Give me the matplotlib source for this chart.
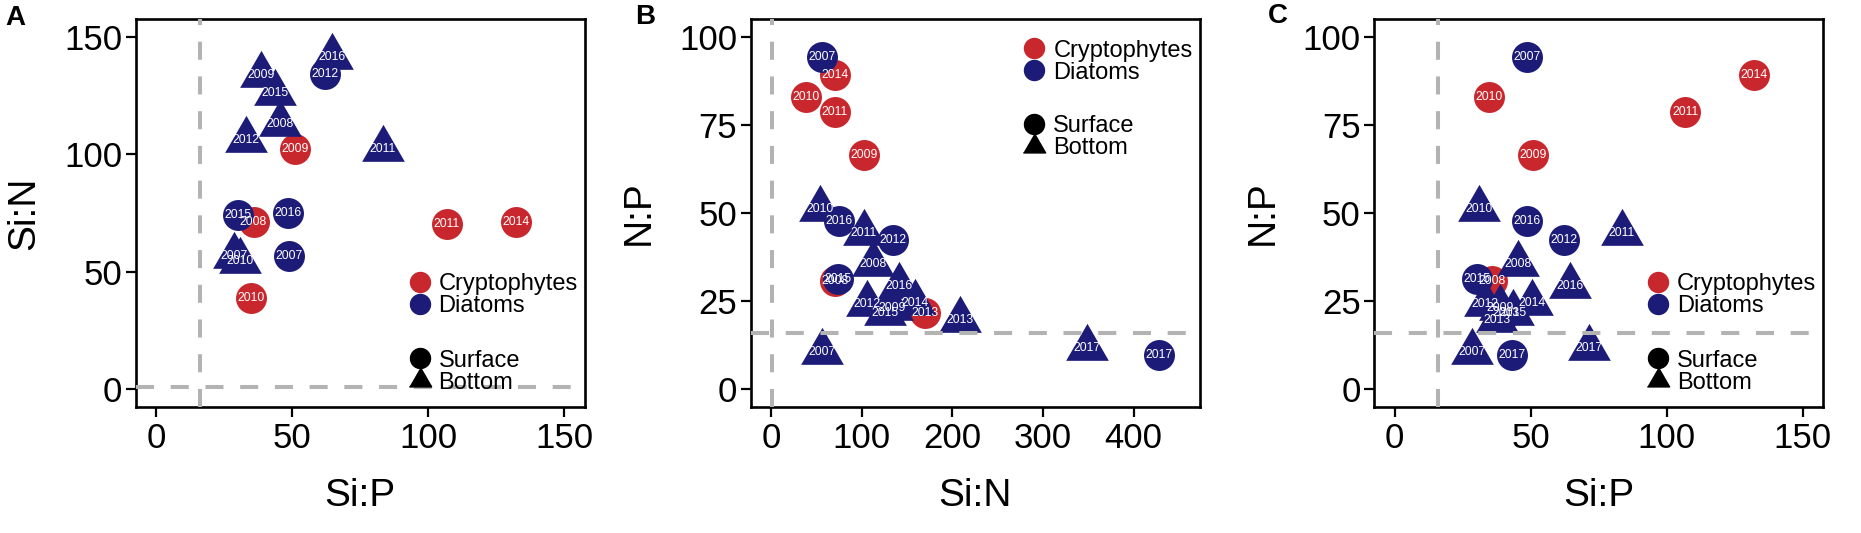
import numpy as np
import matplotlib
matplotlib.use('Agg')
import matplotlib.pyplot as plt
from matplotlib.lines import Line2D

plt.rcParams['font.family'] = ['Liberation Sans', 'DejaVu Sans']
plt.rcParams['lines.scale_dashes'] = False

# --- data: Si:P, Si:N, N:P per year ---
crypto_years = [2008, 2009, 2010, 2011, 2013, 2014]
crypto_sip = [35.8, 51.0, 34.8, 106.8, 41.0, 132.2]
crypto_sin = [71.0, 102.4, 39.0, 70.2, 169.8, 71.2]
crypto_np = [30.6, 66.6, 83.0, 78.8, 21.7, 89.2]

surf_years = [2007, 2012, 2015, 2016, 2017]
surf_sip = [48.8, 62.2, 30.1, 48.5, 43.3]
surf_sin = [56.8, 134.4, 74.3, 74.9, 428.0]
surf_np = [94.2, 42.4, 31.3, 47.8, 9.8]

bot_years = [2007, 2008, 2009, 2010, 2011, 2012, 2013, 2014, 2015, 2016, 2017]
bot_sip = [28.6, 45.5, 38.7, 30.9, 83.4, 33.1, 37.5, 50.4, 43.6, 64.5, 71.4]
bot_sin = [56.7, 112.8, 133.8, 54.4, 102.2, 106.3, 208.8, 158.8, 126.0, 141.5, 348.8]
bot_np = [10.6, 35.4, 23.0, 51.2, 44.3, 24.2, 19.6, 24.5, 21.5, 29.2, 11.8]

# Redfield reference ratios
redfield = {'SiP': 16, 'SiN': 1, 'NP': 16}

RED = '#c8282d'
BLUE = '#1c1c78'
GREY = '#b3b3b3'
TRI = [(0, 1.555), (1.347, -0.778), (-1.347, -0.778)]

groups = [
    dict(years=crypto_years, SiP=crypto_sip, SiN=crypto_sin, NP=crypto_np,
         color=RED, marker='o', s=497),
    dict(years=surf_years, SiP=surf_sip, SiN=surf_sin, NP=surf_np,
         color=BLUE, marker='o', s=497),
    dict(years=bot_years, SiP=bot_sip, SiN=bot_sin, NP=bot_np,
         color=BLUE, marker=TRI, s=1260),
]

W, H = 1861, 533
fig = plt.figure(figsize=(W / 100, H / 100), dpi=100)


def expand(lim):
    span = lim[1] - lim[0]
    return (lim[0] - 0.05 * span, lim[1] + 0.05 * span)


def panel(left, xkey, ykey, xlim, ylim, xticks, yticks, xlabel, ylabel, leg_y):
    ax = fig.add_axes([left / W, 0.2370, 449 / W, 0.7268])
    for g in groups:
        x = np.array(g[xkey])
        y = np.array(g[ykey])
        m = (x >= xlim[0]) & (x <= xlim[1]) & (y >= ylim[0]) & (y <= ylim[1])
        ax.scatter(x[m], y[m], s=g['s'], c=g['color'], marker=g['marker'],
                   linewidths=0, zorder=2)
    ax.axvline(redfield[xkey], color=GREY, lw=2.9, ls=(0, (13, 12)), zorder=3)
    ax.axhline(redfield[ykey], color=GREY, lw=2.9, ls=(0, (13, 12)), zorder=3)
    for g in groups:
        for yr, xv, yv in zip(g['years'], g[xkey], g[ykey]):
            if xlim[0] <= xv <= xlim[1] and ylim[0] <= yv <= ylim[1]:
                ax.text(xv, yv, str(yr), color='white', fontsize=8.7,
                        ha='center', va='center', zorder=4)
    ax.set_xlim(expand(xlim))
    ax.set_ylim(expand(ylim))
    ax.set_xticks(xticks)
    ax.set_yticks(yticks)
    ax.tick_params(length=7.2, width=1.6, labelsize=25, colors='black')
    ax.tick_params(axis='x', pad=4)
    ax.tick_params(axis='y', pad=2.5)
    for sp in ax.spines.values():
        sp.set_linewidth(1.9)
    ax.set_xlabel(xlabel, fontsize=28, va='center')
    ax.xaxis.set_label_coords(0.5, -0.2297)
    ax.set_ylabel(ylabel, fontsize=28, va='center')
    ax.yaxis.set_label_coords(-0.249, 0.5)

    h1 = [Line2D([], [], ls='none', marker='o', color=RED, ms=14.4),
          Line2D([], [], ls='none', marker='o', color=BLUE, ms=14.4)]
    h2 = [Line2D([], [], ls='none', marker='o', color='black', ms=14.4),
          Line2D([], [], ls='none', marker=TRI, color='black', ms=18.5)]
    kw = dict(loc='center left', frameon=False, fontsize=17, handlelength=1.0,
              handletextpad=0.3, labelspacing=0, borderpad=0, borderaxespad=0)
    leg1 = ax.legend(h1, ['Cryptophytes', 'Diatoms'],
                     bbox_to_anchor=(0.606, leg_y[0]), **kw)
    ax.add_artist(leg1)
    ax.legend(h2, ['Surface', 'Bottom'], bbox_to_anchor=(0.606, leg_y[1]), **kw)
    return ax


panel(135.7, 'SiP', 'SiN', (0, 150), (0, 150), [0, 50, 100, 150],
      [0, 50, 100, 150], 'Si:P', 'Si:N', (0.2883, 0.0903))
panel(750.5, 'SiN', 'NP', (0, 450), (0, 100), [0, 100, 200, 300, 400],
      [0, 25, 50, 75, 100], 'Si:N', 'N:P', (0.8906, 0.6949))
panel(1374.2, 'SiP', 'NP', (0, 150), (0, 100), [0, 50, 100, 150],
      [0, 25, 50, 75, 100], 'Si:P', 'N:P', (0.2883, 0.0903))

for lbl, px, py in [('A', 15, 18), ('B', 645, 17), ('C', 1278, 16)]:
    fig.text(px / W, 1 - py / H, lbl, fontsize=20, fontweight='bold',
             ha='center', va='center')

fig.savefig('out.png', dpi=100, facecolor='white')
